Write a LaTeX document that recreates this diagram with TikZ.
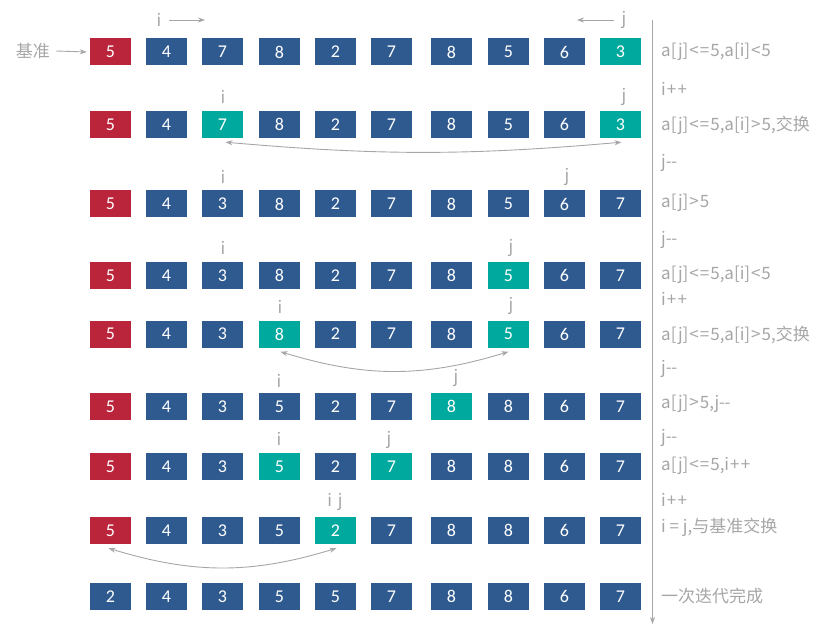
\documentclass[tikz,border=0pt]{standalone}
\usepackage{fontspec}
\setmainfont{Carlito}
\newfontfamily\cjk{Noto Sans CJK SC}
\usetikzlibrary{arrows.meta,calc}
\definecolor{cr}{HTML}{BA253B}
\definecolor{cb}{HTML}{2F5A8F}
\definecolor{ct}{HTML}{00A99D}
\definecolor{cgray}{HTML}{A6A6A6}
\newcommand{\sLT}{\kern1pt<\kern0.6pt}
\newcommand{\sGT}{\kern1pt>\kern1pt}
\newcommand{\sEQ}{\kern0.4pt=\kern1pt}
\newcommand{\sPP}{\kern1pt+\kern1.2pt+}
\newcommand{\sMM}{{-}\kern-0.5pt{-}}
\begin{document}
\begin{tikzpicture}[x=1pt,y=-1pt,
  cell/.style={minimum width=41pt,minimum height=27pt,inner sep=0pt,text=white,font=\fontsize{18}{18}\selectfont},
  ptr/.style={text=cgray,inner sep=0pt,font=\cjk\fontsize{17}{17}\selectfont},
  note/.style={anchor=west,text=cgray,inner sep=0pt,font=\cjk\fontsize{17}{17}\selectfont},
  arr/.style={draw=cgray,line width=0.9pt,-{Stealth[length=7pt,width=5pt]}},
  swaparr/.style={draw=cgray,line width=0.9pt,{Stealth[length=7pt,width=5pt]}-{Stealth[length=7pt,width=5pt]}}
]
\useasboundingbox (0,0) rectangle (833,631);
% cells
\foreach \r/\y/\vals in {
  1/52/{5/cr,4/cb,7/cb,8/cb,2/cb,7/cb,8/cb,5/cb,6/cb,3/ct},
  2/124.5/{5/cr,4/cb,7/ct,8/cb,2/cb,7/cb,8/cb,5/cb,6/cb,3/ct},
  3/204/{5/cr,4/cb,3/cb,8/cb,2/cb,7/cb,8/cb,5/cb,6/cb,7/cb},
  4/275.5/{5/cr,4/cb,3/cb,8/cb,2/cb,7/cb,8/cb,5/ct,6/cb,7/cb},
  5/334/{5/cr,4/cb,3/cb,8/ct,2/cb,7/cb,8/cb,5/ct,6/cb,7/cb},
  6/406.5/{5/cr,4/cb,3/cb,5/cb,2/cb,7/cb,8/ct,8/cb,6/cb,7/cb},
  7/466.5/{5/cr,4/cb,3/cb,5/ct,2/cb,7/ct,8/cb,8/cb,6/cb,7/cb},
  8/530.5/{5/cr,4/cb,3/cb,5/cb,2/ct,7/cb,8/cb,8/cb,6/cb,7/cb},
  9/596.5/{2/cb,4/cb,3/cb,5/cb,5/cb,7/cb,8/cb,8/cb,6/cb,7/cb}}{
  \foreach \v/\k [count=\c] in \vals {
    \pgfmathsetmacro{\cx}{{110.5,166.5,222.5,279.5,335.5,391.5,451.5,508.5,564.5,620.5}[\c-1]}
    \node[cell,fill=\k] (r\r-\c) at (\cx,\y) {\v};
  }
}
% base label
\node[text=cgray,inner sep=0pt,font=\cjk\fontsize{17}{17}\selectfont] (base) at (33,51) {基准};
\draw[arr] ($(base.east)+(6,0)$) -- ($(r1-1.west)+(-3,0)$);
% pointers row 1
\node[ptr] (pi1) at (159,20) {i};
\node[ptr] (pj1) at (624,20) {j};
\coordinate (ai1) at (169,20);
\coordinate (bi1) at (205,20);
\coordinate (aj1) at (614,20);
\coordinate (bj1) at (577,20);
\draw[arr] (ai1) -- (bi1);
\draw[arr] (aj1) -- (bj1);
% pointers
\node[ptr] (pi2) at (223,97) {i};
\node[ptr] (pj2) at (624,97) {j};
\node[ptr] (pi3) at (223,177) {i};
\node[ptr] (pj3) at (567,177) {j};
\node[ptr] (pi4) at (223,248) {i};
\node[ptr] (pj4) at (511,248) {j};
\node[ptr] (pi5) at (280,307) {i};
\node[ptr] (pj5) at (511,306) {j};
\node[ptr] (pi6) at (279,381) {i};
\node[ptr] (pj6) at (456,378) {j};
\node[ptr] (pi7) at (279,439) {i};
\node[ptr] (pj7) at (389,440) {j};
\node[ptr] (pij8) at (335,502) {i\,\,j};
% swap arrows
\draw[swaparr] ($(r2-3.south)+(3,4)$) to[bend right=5] ($(r2-10.south)+(1,4)$);
\draw[swaparr] ($(r5-4.south)+(1,4)$) to[bend right=17] ($(r5-8.south)+(0,4)$);
\draw[swaparr] ($(r8-1.south)+(-2,4)$) to[bend right=17] ($(r8-5.south)+(1,4)$);
% timeline
\coordinate (vtop) at (652.5,20);
\coordinate (vbot) at (652.5,624);
\draw[arr] (vtop) -- (vbot);
% notes
\node[note] (n1) at (661,52) {a[j]\sLT\sEQ5,a[i]\sLT5};
\node[note] (n2) at (661,89) {i\sPP};
\node[note] (n3) at (661,125) {a[j]\sLT\sEQ5,a[i]\sGT5,交换};
\node[note] (n4) at (661,163) {j\sMM};
\node[note] (n5) at (661,203) {a[j]\sGT5};
\node[note] (n6) at (661,240) {j\sMM};
\node[note] (n7) at (661,275) {a[j]\sLT\sEQ5,a[i]\sLT5};
\node[note] (n8) at (661,299) {i\sPP};
\node[note] (n9) at (661,335) {a[j]\sLT\sEQ5,a[i]\sGT5,交换};
\node[note] (n10) at (661,369) {j\sMM};
\node[note] (n11) at (661,404) {a[j]\sGT5,j\sMM};
\node[note] (n12) at (661,438) {j\sMM};
\node[note] (n13) at (661,466) {a[j]\sLT\sEQ5,i\sPP};
\node[note] (n14) at (661,500) {i\sPP};
\node[note] (n15) at (661,527) {i = j,与基准交换};
\node[note] (n16) at (661,596) {一次迭代完成};
\end{tikzpicture}
\end{document}
